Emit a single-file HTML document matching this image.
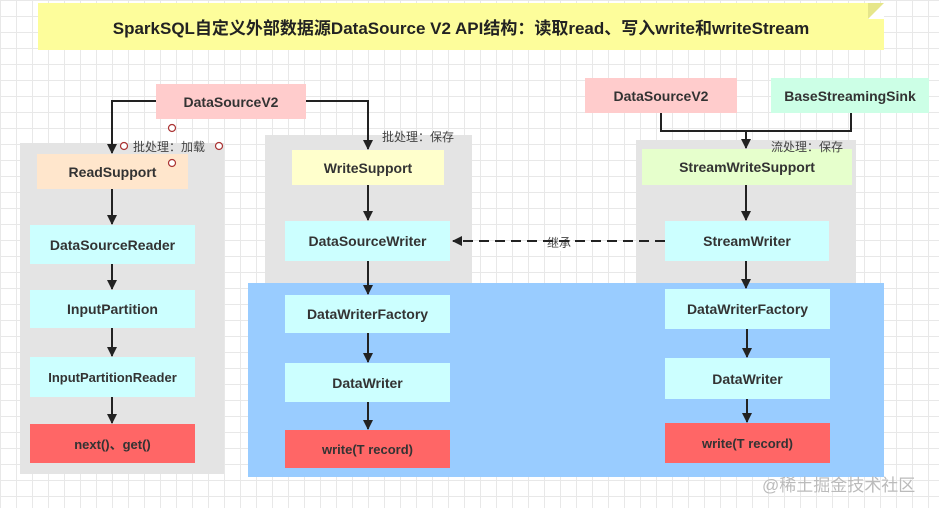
<!DOCTYPE html>
<html><head><meta charset="utf-8"><style>
*{margin:0;padding:0;box-sizing:border-box}
body{width:939px;height:508px;overflow:hidden;position:relative;font-family:"Liberation Sans","Noto Sans CJK SC",sans-serif;
background-color:#fff;
background-image:linear-gradient(#e8e8e8 1px,transparent 1px),linear-gradient(90deg,#e8e8e8 1px,transparent 1px);
background-size:16px 16px;}
.a{position:absolute}
.n{position:absolute;display:flex;align-items:center;justify-content:center;font-weight:bold;font-size:14px;color:#333}
.g{position:absolute;background:#e4e4e4}
.l{position:absolute;font-size:12px;color:#444;white-space:nowrap}
</style></head><body>
<div class="a" style="left:38px;top:3px;width:846px;height:47px;background:#fdfd9b"></div>
<div class="a" style="left:868px;top:3px;width:0;height:0;border-left:16px solid #e6e68a;border-bottom:16px solid #fff;"></div>
<div class="n" style="left:38px;top:3px;width:846px;height:47px;font-size:17px;color:#222">SparkSQL自定义外部数据源DataSource V2 API结构：读取read、写入write和writeStream</div>

<div class="g" style="left:20px;top:143px;width:204px;height:331px"></div>
<div class="g" style="left:265px;top:135px;width:207px;height:150px"></div>
<div class="g" style="left:636px;top:140px;width:220px;height:145px"></div>
<div class="a" style="left:248px;top:283px;width:636px;height:194px;background:#99ccff"></div>

<div class="n" style="left:156px;top:84px;width:150px;height:35px;background:#ffcccc">DataSourceV2</div>
<div class="n" style="left:37px;top:154px;width:151px;height:35px;background:#ffe6cc">ReadSupport</div>
<div class="n" style="left:30px;top:225px;width:165px;height:39px;background:#ccffff">DataSourceReader</div>
<div class="n" style="left:30px;top:290px;width:165px;height:38px;background:#ccffff">InputPartition</div>
<div class="n" style="left:30px;top:357px;width:165px;height:40px;background:#ccffff;font-size:13px">InputPartitionReader</div>
<div class="n" style="left:30px;top:424px;width:165px;height:39px;background:#ff6666;font-size:13px">next()、get()</div>

<div class="n" style="left:292px;top:150px;width:152px;height:35px;background:#ffffcc">WriteSupport</div>
<div class="n" style="left:285px;top:221px;width:165px;height:40px;background:#ccffff">DataSourceWriter</div>
<div class="n" style="left:285px;top:295px;width:165px;height:38px;background:#ccffff">DataWriterFactory</div>
<div class="n" style="left:285px;top:363px;width:165px;height:39px;background:#ccffff">DataWriter</div>
<div class="n" style="left:285px;top:430px;width:165px;height:38px;background:#ff6666;font-size:13px">write(T record)</div>

<div class="n" style="left:585px;top:78px;width:152px;height:35px;background:#ffcccc">DataSourceV2</div>
<div class="n" style="left:771px;top:78px;width:158px;height:35px;background:#ccffe6">BaseStreamingSink</div>
<div class="n" style="left:642px;top:149px;width:210px;height:36px;background:#e6ffcc">StreamWriteSupport</div>
<div class="n" style="left:665px;top:221px;width:164px;height:40px;background:#ccffff">StreamWriter</div>
<div class="n" style="left:665px;top:289px;width:165px;height:40px;background:#ccffff">DataWriterFactory</div>
<div class="n" style="left:665px;top:358px;width:165px;height:41px;background:#ccffff">DataWriter</div>
<div class="n" style="left:665px;top:423px;width:165px;height:40px;background:#ff6666;font-size:13px">write(T record)</div>

<div class="l" style="left:133px;top:138px">批处理：加载</div>
<div class="l" style="left:382px;top:128px">批处理：保存</div>
<div class="l" style="left:771px;top:138px">流处理：保存</div>
<div class="l" style="left:545px;top:234px;background:#fff;padding:0 2px">继承</div>
<div class="l" style="left:762px;top:471px;font-size:17px;color:#bbb">@稀土掘金技术社区</div>

<svg class="a" style="left:0;top:0" width="939" height="508">
<defs><marker id="ar" markerWidth="10" markerHeight="10" refX="9" refY="5" orient="auto" markerUnits="userSpaceOnUse"><path d="M0,0 L10,5 L0,10 z" fill="#222"/></marker></defs>
<g stroke="#222" stroke-width="2" fill="none">
<path d="M156,101 H112 V153" marker-end="url(#ar)"/>
<path d="M306,101 H368 V149" marker-end="url(#ar)"/>
<path d="M661,113 V131 H851 V113"/>
<path d="M746,131 V148" marker-end="url(#ar)"/>
<path d="M112,189 V224" marker-end="url(#ar)"/>
<path d="M112,264 V289" marker-end="url(#ar)"/>
<path d="M112,328 V356" marker-end="url(#ar)"/>
<path d="M112,397 V423" marker-end="url(#ar)"/>
<path d="M368,185 V220" marker-end="url(#ar)"/>
<path d="M368,261 V294" marker-end="url(#ar)"/>
<path d="M368,333 V362" marker-end="url(#ar)"/>
<path d="M368,402 V429" marker-end="url(#ar)"/>
<path d="M746,185 V220" marker-end="url(#ar)"/>
<path d="M746,261 V288" marker-end="url(#ar)"/>
<path d="M747,329 V357" marker-end="url(#ar)"/>
<path d="M747,399 V422" marker-end="url(#ar)"/>
<path d="M665,241 H453" stroke-dasharray="10,6" marker-end="url(#ar)"/>
</g>
<g stroke="#a33" stroke-width="1.2" fill="#fff">
<circle cx="172" cy="128" r="3.5"/><circle cx="124" cy="146" r="3.5"/><circle cx="219" cy="146" r="3.5"/><circle cx="172" cy="163" r="3.5"/>
</g>
</svg>
</body></html>
